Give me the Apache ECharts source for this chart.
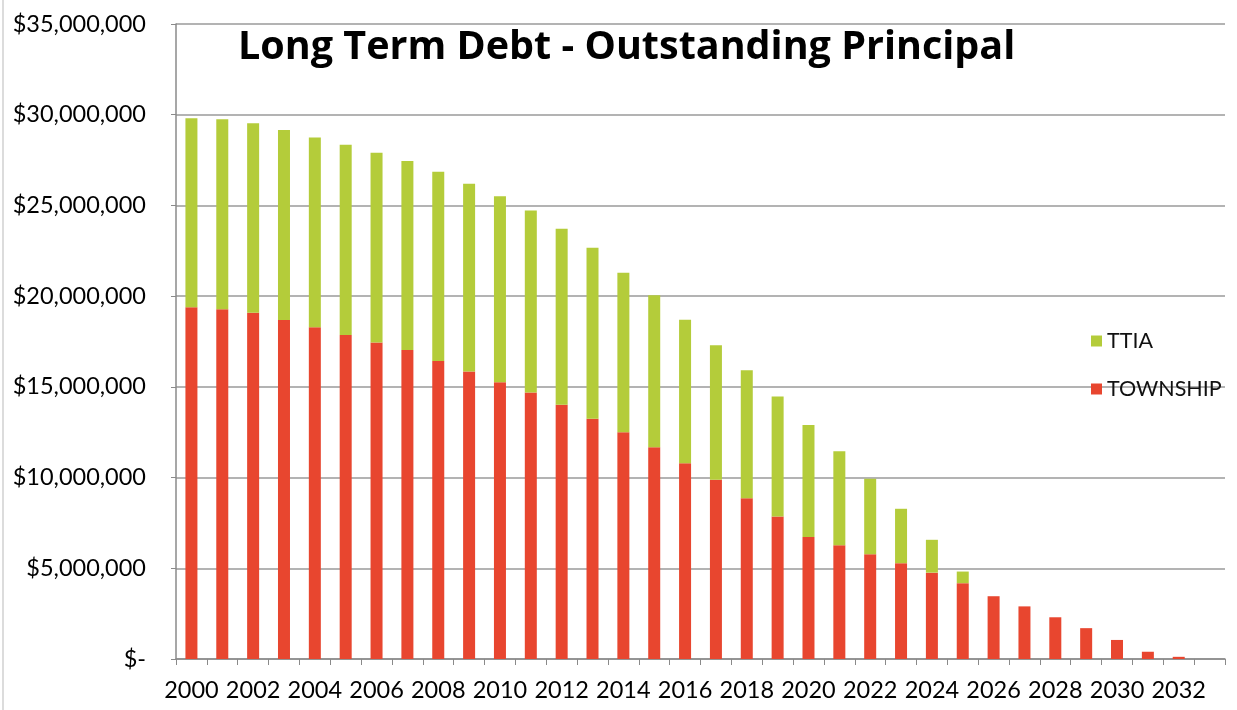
<!DOCTYPE html>
<html>
<head>
<meta charset="utf-8">
<script src="https://cdn.jsdelivr.net/npm/echarts@6/dist/echarts.min.js"></script>
<style>
  html, body { margin: 0; padding: 0; background: #fff; }
  #chart { width: 1237px; height: 710px; }
</style>
</head>
<body>
<div id="chart"></div>
<script>
// Fiscal years on the category axis (last slot is an empty year)
const years = ['2000','2001','2002','2003','2004','2005','2006','2007','2008','2009',
  '2010','2011','2012','2013','2014','2015','2016','2017','2018','2019',
  '2020','2021','2022','2023','2024','2025','2026','2027','2028','2029',
  '2030','2031','2032','2033'];

// Outstanding principal held by the township (dollars)
const township = [19390000, 19280000, 19090000, 18690000, 18290000, 17860000, 17440000, 17030000,
  16430000, 15840000, 15250000, 14690000, 14010000, 13240000, 12500000, 11670000, 10790000,
  9880000, 8860000, 7850000, 6720000, 6270000, 5780000, 5280000, 4760000, 4180000, 3460000,
  2900000, 2300000, 1700000, 1050000, 400000, 120000, 0];

// Outstanding principal held by TTIA (dollars), stacked on top
const ttia = [10410000, 10470000, 10440000, 10470000, 10450000, 10480000, 10470000, 10420000,
  10430000, 10350000, 10250000, 10030000, 9710000, 9430000, 8790000, 8380000, 7910000,
  7410000, 7060000, 6620000, 6180000, 5180000, 4150000, 3000000, 1810000, 640000, 0,
  0, 0, 0, 0, 0, 0, 0];

// Value-axis tick labels, bottom to top
const yTickLabels = ['$-', '$5,000,000', '$10,000,000', '$15,000,000', '$20,000,000',
  '$25,000,000', '$30,000,000', '$35,000,000'];

const chart = echarts.init(document.getElementById('chart'), null, { renderer: 'canvas' });

const FONT = 'Lato, "Open Sans", sans-serif';

chart.setOption({
  animation: false,
  backgroundColor: '#ffffff',
  title: {
    text: 'Long Term Debt - Outstanding Principal',
    left: 233,
    top: 23,
    textStyle: { fontFamily: '"Open Sans", Lato, sans-serif', fontWeight: 'bold', fontSize: 39.5, color: '#000' }
  },
  legend: {
    orient: 'vertical',
    left: 1086,
    top: 325,
    itemGap: 26,
    itemWidth: 11,
    itemHeight: 11,
    icon: 'rect',
    data: ['TTIA', 'TOWNSHIP'],
    textStyle: { fontFamily: FONT, fontSize: 21.5, color: '#111', padding: [0, 0, 0, 0] }
  },
  grid: { left: 176, right: 12, top: 24, bottom: 51, containLabel: false },
  xAxis: {
    type: 'category',
    data: years,
    boundaryGap: true,
    axisLine: { lineStyle: { color: '#8a8a8a', width: 1.5 } },
    axisTick: { show: true, length: 6, interval: 0, lineStyle: { color: '#8a8a8a' } },
    axisLabel: {
      interval: 1,
      margin: 19,
      fontFamily: FONT,
      fontSize: 23.5,
      color: '#000'
    }
  },
  yAxis: {
    type: 'value',
    min: 0,
    max: 35000000,
    interval: 5000000,
    axisLine: { show: true, lineStyle: { color: '#8a8a8a', width: 1.5 } },
    axisTick: { show: true, length: 5, lineStyle: { color: '#8a8a8a' } },
    splitLine: { lineStyle: { color: '#9a9a9a', width: 1.5 } },
    axisLabel: {
      margin: 30,
      fontFamily: FONT,
      fontSize: 23.5,
      color: '#000',
      formatter: function (v) { return yTickLabels[Math.round(v / 5000000)]; }
    }
  },
  series: [
    {
      name: 'TOWNSHIP',
      type: 'bar',
      stack: 'debt',
      data: township,
      barWidth: 12,
      itemStyle: { color: '#e8462f' }
    },
    {
      name: 'TTIA',
      type: 'bar',
      stack: 'debt',
      data: ttia,
      barWidth: 12,
      itemStyle: { color: '#b4cc3a' }
    }
  ],
  graphic: [
    {
      type: 'line',
      shape: { x1: 3, y1: 0, x2: 3, y2: 710 },
      style: { stroke: '#d0d0d0', lineWidth: 1.5 }
    }
  ]
});
</script>
</body>
</html>
